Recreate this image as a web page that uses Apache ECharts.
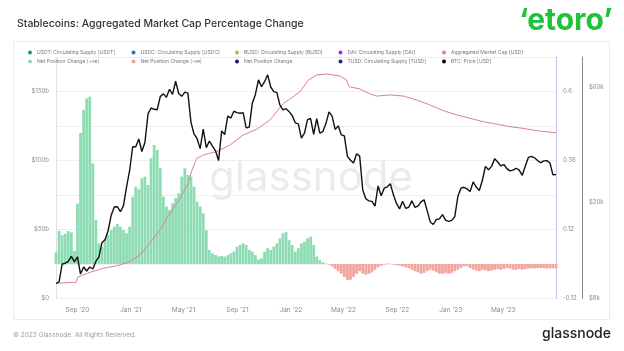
<!DOCTYPE html>
<html>
<head>
<meta charset="utf-8">
<title>Stablecoins: Aggregated Market Cap Percentage Change</title>
<script src="https://cdn.jsdelivr.net/npm/echarts@6/dist/echarts.min.js"></script>
<style>
    html, body { margin: 0; padding: 0; background: #fff; }
    #main { width: 624px; height: 351px; }
</style>
</head>
<body>
<div id="main"></div>
<script>
    // weekly samples start here (local date: year, month index, day)
    const weekStart = [2020, 6, 14];

    // BTC price [USD], one value per week
    const btcPrice = [
        9250, 9380, 11100, 11200, 11400, 11950, 11350, 11900, 10100, 10800, 10400, 10800, 10600,
        11400, 11900, 13650, 14000, 15300, 17700, 19150, 19200, 18300, 19400, 23200, 27100,
        34000, 34000, 36600, 32500, 35500, 46500, 49200, 48600, 48400, 54900, 56300, 54500, 58800,
        56000, 63500, 56500, 55000, 57200, 56700, 42900, 38400, 36700, 33400, 40200, 33700, 35900,
        34200, 32700, 29800, 39500, 38200, 45600, 44700, 47700, 47100, 46800, 47100, 40700, 41000,
        51500, 56000, 64300, 60300, 63200, 67500, 60100, 57500, 57000, 50600, 48300, 48900, 47500,
        45800, 42700, 42300, 36900, 38700, 44000, 44500, 38300, 44400, 38700, 39300, 42400, 47400,
        45500, 40100, 41500, 38100, 37700, 31000, 29900, 29100, 31800, 31100, 22500, 20700, 20300,
        20200, 19300, 23400, 21300, 22900, 23200, 23900, 21500, 19800, 18800, 20200, 18900, 19100,
        20300, 19100, 19300, 20100, 20500, 18500, 16600, 16200, 17000, 17100, 17800, 16900, 16700,
        16850, 17450, 21150, 22900, 23100, 22750, 22200, 24300, 23150, 22400, 24700, 28200, 27300,
        28200, 30300, 29400, 28300, 28700, 27600, 27000, 27200, 27700, 27200, 25900, 28300, 30700,
        31000, 30600, 29800, 29200, 29700, 29800, 29200, 26000, 26100
    ];

    // stablecoin net position change (30d, fraction), one value per week
    const netChange = [
        0.04, 0.115, 0.10, 0.105, 0.115, 0.11, 0.045, 0.21, 0.456, 0.536, 0.576, 0.582, 0.35,
        0.153, 0.072, 0.06, 0.089, 0.10, 0.118, 0.13, 0.139, 0.13, 0.118, 0.107, 0.13, 0.234,
        0.269, 0.26, 0.298, 0.304, 0.275, 0.368, 0.414, 0.397, 0.333, 0.234, 0.2, 0.188, 0.211,
        0.229, 0.246, 0.304, 0.333, 0.31, 0.304, 0.269, 0.217, 0.2, 0.176, 0.118, 0.049, 0.037,
        0.031, 0.026, 0.028, 0.026, 0.031, 0.037, 0.043, 0.06, 0.066, 0.072, 0.066, 0.049, 0.043,
        0.031, 0.015, 0.02, 0.043, 0.055, 0.049, 0.06, 0.072, 0.089, 0.107, 0.112, 0.083, 0.066,
        0.043, 0.055, 0.072, 0.078, 0.089, 0.095, 0.066, 0.026, 0.013, 0.006, 0.002, -0.002,
        -0.008, -0.017, -0.025, -0.034, -0.045, -0.055, -0.055, -0.045, -0.034, -0.025, -0.034,
        -0.037, -0.034, -0.029, -0.02, -0.011, -0.006, -0.002, 0.002, 0.001, -0.002, -0.004,
        -0.006, -0.008, -0.012, -0.014, -0.02, -0.025, -0.029, -0.034, -0.031, -0.025, -0.02,
        -0.023, -0.029, -0.034, -0.034, -0.031, -0.034, -0.031, -0.025, -0.02, -0.014, -0.008,
        -0.008, -0.014, -0.02, -0.023, -0.025, -0.02, -0.022, -0.025, -0.023, -0.02, -0.017,
        -0.02, -0.017, -0.014, -0.016, -0.02, -0.02, -0.017, -0.02, -0.017, -0.016, -0.015,
        -0.015, -0.014, -0.014, -0.015, -0.016, -0.015, -0.015, -0.015
    ];

    // aggregated stablecoin market cap [USD b]
    const capDates = [
        '2020-07-15', '2020-08-29', '2020-09-02', '2020-09-30', '2020-10-30', '2020-11-29', '2020-12-30',
        '2021-01-21', '2021-02-13', '2021-03-08', '2021-03-31', '2021-04-23', '2021-05-12', '2021-05-19',
        '2021-05-31', '2021-06-15', '2021-07-15', '2021-08-15', '2021-09-14', '2021-10-15', '2021-11-14',
        '2021-12-15', '2022-01-01', '2022-01-22', '2022-02-10', '2022-03-01', '2022-03-24', '2022-04-23',
        '2022-05-08', '2022-05-14', '2022-06-08', '2022-07-01', '2022-07-16', '2022-08-15', '2022-09-15',
        '2022-10-15', '2022-11-15', '2022-12-15', '2023-01-15', '2023-02-14', '2023-03-16', '2023-04-15',
        '2023-05-16', '2023-06-15', '2023-07-16', '2023-08-29'
    ];
    const capValues = [
        11.0, 11.8, 15.5, 19.0, 21.9, 23.6, 26.7,
        31.5, 40.0, 49.6, 61.7, 72.6, 83.5, 91.9,
        101.6, 104.0, 106.4, 111.2, 118.5, 122.6, 129.3,
        141.4, 145.0, 149.9, 158.3, 162.0, 162.7, 161.2,
        158.3, 153.5, 151.8, 148.2, 146.7, 147.5, 146.7,
        143.8, 140.2, 136.1, 133.0, 130.6, 128.1, 126.4,
        124.5, 123.3, 121.6, 120.1
    ];

    // axis range and tick labels
    const xRange = ['2020-07-14', '2023-08-29'];
    const monthTicks = ['2020-09-01', '2021-01-01', '2021-05-01', '2021-09-01', '2022-01-01',
        '2022-05-01', '2022-09-01', '2023-01-01', '2023-05-01'];
    const usdTicks = [0, 50, 100, 150];
    const pctTicks = [-0.12, 0.12, 0.36, 0.6];
    const btcTicks = [8000, 20000, 60000];
    const monthNames = ['Jan', 'Feb', 'Mar', 'Apr', 'May', 'Jun', 'Jul', 'Aug', 'Sep', 'Oct', 'Nov', 'Dec'];

    // legend, laid out in five columns of two
    const legendCols = [
        ['USDT: Circulating Supply [USDT]', 'Net Position Change (+ve)'],
        ['USDC: Circulating Supply [USDC]', 'Net Position Change (-ve)'],
        ['BUSD: Circulating Supply [BUSD]', 'Net Position Change'],
        ['DAI: Circulating Supply [DAI]', 'TUSD: Circulating Supply [TUSD]'],
        ['Aggregated Market Cap [USD]', 'BTC: Price [USD]']
    ];

    const font = 'Inter, Roboto, sans-serif';
    const axisText = { color: '#8c8c8c', fontSize: 6, fontFamily: font };

    // 'YYYY-MM-DD' -> local timestamp
    const toTime = s => {
        const p = s.split('-').map(Number);
        return new Date(p[0], p[1] - 1, p[2]).getTime();
    };

    const weeks = btcPrice.map((_, i) =>
        new Date(weekStart[0], weekStart[1], weekStart[2] + 7 * i).getTime());

    const emptySeries = (name, color) => ({ name: name, type: 'line', color: color, data: [] });

    const chart = echarts.init(document.getElementById('main'));

    const option = {
        animation: false,
        backgroundColor: '#fff',
        title: {
            text: 'Stablecoins: Aggregated Market Cap Percentage Change',
            left: 12,
            top: 13.5,
            textStyle: { fontSize: 10.5, fontWeight: 500, color: '#333', fontFamily: font }
        },
        legend: legendCols.map((names, i) => ({
            orient: 'vertical',
            left: 28 + i * 103.5,
            top: 49,
            padding: 0,
            itemGap: 2,
            itemWidth: 4,
            itemHeight: 4,
            icon: 'circle',
            selectedMode: false,
            data: names,
            textStyle: { fontSize: 5, color: '#777', fontFamily: font, lineHeight: 7 }
        })),
        grid: { left: 56, right: 68, top: 57, bottom: 52.5 },
        xAxis: {
            type: 'value',
            min: toTime(xRange[0]),
            max: toTime(xRange[1]),
            axisLine: { show: false },
            axisTick: { show: false },
            splitLine: { show: false },
            axisLabel: Object.assign({}, axisText, {
                fontSize: 6.5,
                margin: 8.5,
                customValues: monthTicks.map(toTime),
                formatter: value => {
                    const d = new Date(value);
                    return monthNames[d.getMonth()] + " '" + String(d.getFullYear()).slice(2);
                }
            })
        },
        yAxis: [
            {
                type: 'value',
                position: 'left',
                min: 0,
                max: 175,
                interval: 25,
                axisLine: { show: true, lineStyle: { color: '#e2e2e2' } },
                axisTick: { show: false },
                splitLine: { show: false },
                axisLabel: Object.assign({}, axisText, {
                    margin: 7,
                    padding: [0, 0, 5, 0],
                    customValues: usdTicks,
                    formatter: v => v === 0 ? '$0' : '$' + v + 'b'
                })
            },
            {
                type: 'value',
                position: 'right',
                min: -0.12,
                max: 0.72,
                interval: 0.12,
                axisLine: { show: true, lineStyle: { color: '#c4c0f0' } },
                axisTick: { show: false },
                splitLine: { show: true, lineStyle: { color: '#efefef' } },
                axisLabel: Object.assign({}, axisText, {
                    margin: 7,
                    padding: [0, 0, 5, 0],
                    customValues: pctTicks,
                    formatter: v => String(+v.toFixed(2))
                })
            },
            {
                type: 'log',
                logBase: 10,
                position: 'right',
                offset: 26,
                min: 8000,
                max: 80000,
                axisLine: { show: true, lineStyle: { color: '#8a8a8a' } },
                axisTick: { show: false },
                splitLine: { show: false },
                axisLabel: Object.assign({}, axisText, {
                    margin: 7,
                    padding: [0, 0, 5, 0],
                    customValues: btcTicks,
                    formatter: v => '$' + Math.round(v / 1000) + 'k'
                })
            }
        ],
        graphic: [
            {
                type: 'rect',
                z: -10,
                shape: { x: 13.5, y: 41.5, width: 596, height: 278 },
                style: { fill: 'none', stroke: '#ececec', lineWidth: 1 }
            },
            {
                type: 'text',
                z: 0,
                x: 311,
                y: 178,
                style: {
                    text: 'glassnode', fontSize: 42, fontFamily: font,
                    fill: 'rgba(0,0,0,0.08)', align: 'center', verticalAlign: 'middle'
                }
            },
            {
                type: 'text',
                x: 519,
                y: 21,
                style: {
                    text: '\u2018etoro\u2019', fontSize: 30, fontWeight: 'bold', fontFamily: font,
                    fill: '#1fc23b', verticalAlign: 'middle'
                }
            },
            {
                type: 'text',
                x: 13,
                y: 335,
                style: {
                    text: '\u00a9 2023 Glassnode. All Rights Reserved.', fontSize: 6.5, fontFamily: font,
                    fill: '#9a9a9a', verticalAlign: 'middle'
                }
            },
            {
                type: 'text',
                x: 611,
                y: 334,
                style: {
                    text: 'glassnode', fontSize: 14, fontWeight: 500, fontFamily: font,
                    fill: '#222', align: 'right', verticalAlign: 'middle'
                }
            }
        ],
        series: [
            emptySeries('USDT: Circulating Supply [USDT]', '#1d9a64'),
            emptySeries('USDC: Circulating Supply [USDC]', '#2f6fd0'),
            emptySeries('BUSD: Circulating Supply [BUSD]', '#c4b42f'),
            emptySeries('DAI: Circulating Supply [DAI]', '#a235cf'),
            emptySeries('Net Position Change', '#17176a'),
            emptySeries('TUSD: Circulating Supply [TUSD]', '#1e2b6e'),
            {
                name: 'Net Position Change (+ve)',
                type: 'bar',
                yAxisIndex: 1,
                barWidth: 2.8,
                barGap: '-100%',
                color: '#8ddcb3',
                data: weeks.map((t, i) => [t, netChange[i] > 0 ? netChange[i] : null])
            },
            {
                name: 'Net Position Change (-ve)',
                type: 'bar',
                yAxisIndex: 1,
                barWidth: 2.8,
                barGap: '-100%',
                color: '#f3a5a0',
                data: weeks.map((t, i) => [t, netChange[i] < 0 ? netChange[i] : null])
            },
            {
                name: 'Aggregated Market Cap [USD]',
                type: 'line',
                yAxisIndex: 0,
                showSymbol: false,
                color: '#db8090',
                lineStyle: { width: 1, color: '#d98391' },
                data: capDates.map((d, i) => [toTime(d), capValues[i]])
            },
            {
                name: 'BTC: Price [USD]',
                type: 'line',
                yAxisIndex: 2,
                showSymbol: false,
                color: '#000',
                lineStyle: { width: 1.4, color: '#111' },
                data: weeks.map((t, i) => [t, btcPrice[i]])
            }
        ]
    };

    chart.setOption(option);
</script>
</body>
</html>
